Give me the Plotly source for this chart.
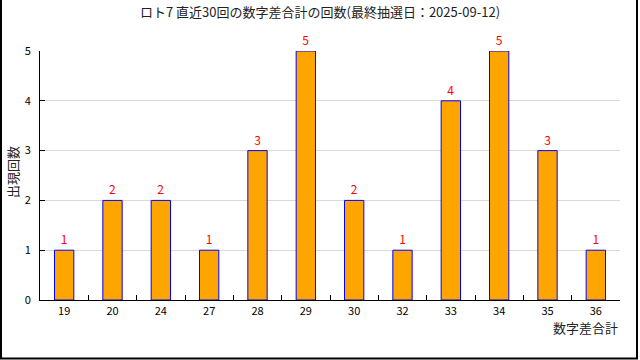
import plotly.graph_objects as go

categories = ["19", "20", "24", "27", "28", "29", "30", "32", "33", "34", "35", "36"]
counts = [1, 2, 2, 1, 3, 5, 2, 1, 4, 5, 3, 1]
y_ticks = [0, 1, 2, 3, 4, 5]
title_text = "ロト7 直近30回の数字差合計の回数(最終抽選日：2025-09-12)"
x_title = "数字差合計"
y_title = "出現回数"

FONT = "Noto Sans CJK JP, DejaVu Sans, sans-serif"

L, R, T, B = 40, 20, 51, 60
W, H = 640, 360
pw, ph = W - L - R, H - T - B

def px_to_paper_x(px):
    return (px - L) / pw

def py_to_paper_y(py):
    return (H - B - py) / ph

fig = go.Figure()
fig.add_trace(go.Bar(
    x=categories, y=counts,
    marker=dict(color="#FFA500", line=dict(color="#0000FF", width=1)),
    width=0.4,
    text=[str(c) for c in counts],
    textposition="outside",
    textfont=dict(color="#FF0000", size=12, family=FONT),
    cliponaxis=False,
))

fig.update_layout(
    width=W, height=H,
    margin=dict(l=L, r=R, t=T, b=B, autoexpand=False),
    paper_bgcolor="white", plot_bgcolor="white",
    showlegend=False,
    font=dict(family=FONT, color="black", size=11),
    title=dict(text=title_text, x=0.5, xanchor="center", y=1 - 12 / H, yanchor="middle",
               font=dict(size=13, family=FONT, color="#222"), automargin=False),
    xaxis=dict(
        type="category", showline=True, linecolor="black", linewidth=1,
        ticks="inside", tickson="boundaries", ticklen=5, tickcolor="black",
        showgrid=False, tickfont=dict(size=11), mirror=False, automargin=False,
        ticklabelstandoff=1,
    ),
    yaxis=dict(
        range=[0, 5], tickvals=y_ticks, showline=True, linecolor="black", linewidth=1,
        ticks="inside", ticklen=5, tickcolor="black",
        showgrid=True, gridcolor="#D9D9D9", gridwidth=1, zeroline=False,
        tickfont=dict(size=11), ticklabelstandoff=6, automargin=False,
    ),
    bargap=0.6,
    annotations=[
        dict(text=x_title, xref="paper", yref="paper", x=1, xanchor="right",
             y=py_to_paper_y(327), yanchor="middle", showarrow=False,
             font=dict(size=13, family=FONT, color="#222")),
        dict(text=y_title, xref="paper", yref="paper", x=px_to_paper_x(12), xanchor="center",
             y=py_to_paper_y(172), yanchor="middle", showarrow=False, textangle=-90,
             font=dict(size=13, family=FONT, color="#222")),
    ],
    shapes=[
        dict(type="rect", xref="paper", yref="paper",
             x0=px_to_paper_x(1), x1=px_to_paper_x(637), y0=py_to_paper_y(358.5), y1=py_to_paper_y(-2),
             line=dict(color="black", width=2), layer="above"),
    ],
)

fig.write_html("out.html", config={"displayModeBar": False},
               post_script="document.body.style.margin='0';document.body.style.padding='0';document.body.style.overflow='hidden';")
